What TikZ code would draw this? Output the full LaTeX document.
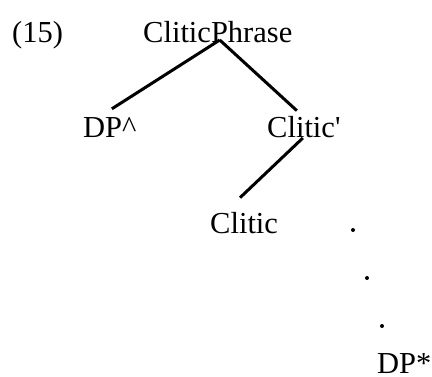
\documentclass[tikz,border=0pt]{standalone}
\usepackage{fontspec}
\setmainfont{Liberation Serif}
\begin{document}
\begin{tikzpicture}[x=1pt,y=1pt,yscale=-1,xscale=1,
		lbl/.style={anchor=base west,inner sep=0pt,font=\fontsize{30.5}{36}\selectfont},
		branch/.style={line width=3pt}]
			\useasboundingbox (0,0) rectangle (432,376);
			% Text Node
			\node [lbl] (exnum) at (12,42) {(15)};
			% Text Node
			\node [lbl] (cliticp) at (143,42) {CliticPhrase};
			% Text Node
			\node [lbl] (dpspec) at (83,137) {DP\textasciicircum};
			% Text Node
			\node [lbl] (cliticbar) at (267,137) {Clitic\textquotesingle};
			% Text Node
			\node [lbl] (clitichead) at (210,233) {Clitic};
			% Text Node
			\node [lbl] (dpcomp) at (377,373) {DP*};
			%Straight Lines
			\draw [branch] ([shift={(2,-2)}]cliticp.base) -- ([shift={(2,-8)}]dpspec.north) ;
			%Straight Lines
			\draw [branch] ([shift={(2,-2)}]cliticp.base) -- ([shift={(-7,-5)}]cliticbar.north) ;
			%Straight Lines
			\draw [branch] ([shift={(-1,1)}]cliticbar.base) -- ([shift={(-4,-14)}]clitichead.north) ;
			%Dots
			\fill (353,230) circle (2) (367,278) circle (2) (382,326) circle (2) ;
		\end{tikzpicture}
\end{document}
